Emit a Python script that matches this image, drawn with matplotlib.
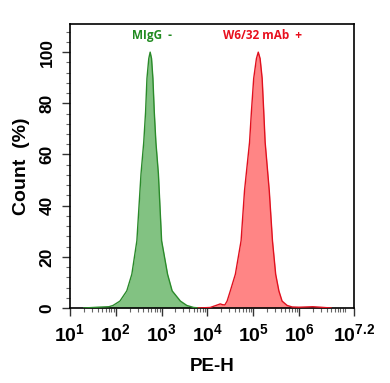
import numpy as np
import matplotlib
matplotlib.use("Agg")
import matplotlib.pyplot as plt
from matplotlib.ticker import FixedLocator, NullFormatter

# Data (log10 of PE-H, Count %)
green_log = [1.30, 1.60, 1.85, 1.94, 2.09, 2.24, 2.35, 2.46, 2.55, 2.61, 2.65, 2.68,
             2.72, 2.75, 2.78, 2.81, 2.84, 2.875, 2.93, 3.00, 3.13, 3.23, 3.41,
             3.55, 3.70, 3.85]
green_cnt = [0.0, 0.3, 0.5, 1.0, 2.7, 6.7, 13.2, 26.3, 52.4, 64.8, 76.6, 89.7,
             97.5, 100.0, 97.5, 89.7, 76.6, 64.8, 52.4, 26.3, 13.2, 6.7, 2.7,
             1.0, 0.2, 0.0]

red_log = [3.80, 4.06, 4.22, 4.28, 4.33, 4.38, 4.43, 4.50, 4.61, 4.735, 4.81, 4.92,
           4.96, 5.01, 5.07, 5.11, 5.15, 5.195, 5.23, 5.26, 5.35, 5.42, 5.49,
           5.56, 5.63, 5.74, 5.85, 6.00, 6.30, 6.47, 6.70]
red_cnt = [0.0, 0.2, 1.2, 1.6, 1.3, 1.2, 2.7, 6.7, 13.2, 26.3, 45.9, 64.8,
           76.6, 89.7, 97.5, 100.0, 97.5, 89.7, 76.6, 64.8, 45.9, 26.3, 13.2,
           6.7, 2.7, 1.0, 0.4, 0.3, 0.5, 0.3, 0.0]

x_ticks_log = [1, 2, 3, 4, 5, 6, 7.2]
x_tick_labels = [r"$\mathbf{10^{1}}$", r"$\mathbf{10^{2}}$", r"$\mathbf{10^{3}}$",
                 r"$\mathbf{10^{4}}$", r"$\mathbf{10^{5}}$", r"$\mathbf{10^{6}}$",
                 r"$\mathbf{10^{7.2}}$"]
y_ticks = [0, 20, 40, 60, 80, 100]

plt.rcParams['font.family'] = ['Liberation Sans', 'DejaVu Sans']
plt.rcParams['mathtext.fontset'] = 'custom'
plt.rcParams['mathtext.rm'] = 'Liberation Sans'
plt.rcParams['mathtext.bf'] = 'Liberation Sans:bold'

fig = plt.figure(figsize=(3.9, 3.83), dpi=100)
ax = fig.add_axes([70/390, 1-308/383, 284/390, 284/383])

gx = 10 ** np.array(green_log)
rx = 10 ** np.array(red_log)
ax.fill_between(gx, green_cnt, 0, color='#82c282', lw=0, zorder=2)
ax.plot(gx, green_cnt, color='#2a8a2a', lw=1.0, zorder=3)
ax.fill_between(rx, red_cnt, 0, color='#ff8585', lw=0, zorder=2)
ax.plot(rx, red_cnt, color='#e0101e', lw=1.0, zorder=3)

ax.set_xscale('log')
ax.set_xlim(10 ** 1, 10 ** 7.2)
ax.set_ylim(0, 111)

ax.set_xticks([10 ** v for v in x_ticks_log])
ax.set_xticklabels(x_tick_labels, fontsize=14)
minor = []
for d in range(1, 8):
    for m in range(2, 10):
        val = m * 10 ** d
        if val < 10 ** 7.2:
            minor.append(val)
minor.append(10 ** 7)
ax.xaxis.set_minor_locator(FixedLocator(minor))
ax.xaxis.set_minor_formatter(NullFormatter())

ax.set_yticks(y_ticks)
ax.set_yticklabels([str(v) for v in y_ticks], fontsize=12.5, fontweight='bold',
                   rotation=90, va='center')
ax.yaxis.set_minor_locator(FixedLocator(np.arange(0, 111, 4)))

ax.tick_params(axis='both', which='major', direction='out', length=6, width=1, color='#333333')
ax.tick_params(axis='both', which='minor', direction='out', length=3, width=0.8, color='#666666')
ax.tick_params(axis='x', which='major', pad=5)
ax.tick_params(axis='y', which='major', pad=5)

for s in ax.spines.values():
    s.set_linewidth(1.2)
    s.set_color('black')

ax.set_xlabel('PE-H', fontsize=13.5, fontweight='bold', labelpad=9)
ax.set_ylabel('Count  (%)', fontsize=14, fontweight='bold', labelpad=7)

ax.text(10 ** 2.78, 104, 'MIgG  -', color='#228b22', fontsize=8.5, fontweight='bold',
        ha='center', va='bottom', family=['Open Sans', 'DejaVu Sans'])
ax.text(10 ** 5.2, 104, 'W6/32 mAb  +', color='#e8101e', fontsize=8.5, fontweight='bold',
        ha='center', va='bottom', family=['Open Sans', 'DejaVu Sans'])

fig.savefig('out.png', dpi=100)
